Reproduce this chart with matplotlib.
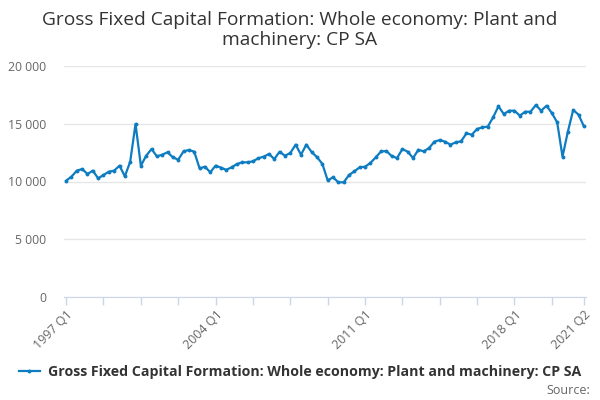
import matplotlib
matplotlib.use("Agg")
import matplotlib.pyplot as plt
from matplotlib.ticker import FuncFormatter, FixedLocator

plt.rcParams['font.family'] = ['Open Sans', 'DejaVu Sans']

values = [10070, 10420, 10940, 11080, 10650, 10940, 10270, 10560, 10850, 10940,
          11370, 10450, 11710, 14980, 11370, 12230, 12810, 12180, 12320, 12530,
          12090, 11890, 12610, 12730, 12580, 11140, 11280, 10800, 11370, 11200,
          11010, 11230, 11510, 11660, 11660, 11750, 12010, 12150, 12380, 11950,
          12580, 12230, 12470, 13190, 12320, 13190, 12550, 12110, 11530, 10100,
          10360, 9930, 9930, 10560, 10880, 11230, 11280, 11600, 12090, 12600,
          12640, 12200, 12030, 12810, 12580, 12030, 12750, 12610, 12900, 13450,
          13590, 13450, 13190, 13390, 13480, 14170, 14050, 14550, 14690, 14750,
          15560, 16510, 15840, 16130, 16130, 15700, 16040, 16040, 16620, 16130,
          16560, 15930, 15120, 12150, 14310, 16190, 15790, 14780]

quarters = [f"{1997 + i // 4} Q{i % 4 + 1}" for i in range(len(values))]
label_quarters = ["1997 Q1", "2004 Q1", "2011 Q1", "2018 Q1", "2021 Q2"]
y_ticks = [0, 5000, 10000, 15000, 20000]
series_name = "Gross Fixed Capital Formation: Whole economy: Plant and machinery: CP SA"
title = "Gross Fixed Capital Formation: Whole economy: Plant and\nmachinery: CP SA"

fig = plt.figure(figsize=(6, 4), dpi=100)
ax = fig.add_axes([64/600, 1 - 297/400, (586 - 64)/600, (297 - 66)/400])

x = list(range(len(values)))
line, = ax.plot(x, values, color='#0d7cc1', linewidth=1.6, marker='o',
                markersize=2.8, markeredgewidth=0, label=series_name, zorder=3)

ax.set_xlim(-0.4, len(values) - 1 + 0.4)
ax.set_ylim(0, 20000)

ax.set_yticks(y_ticks)
ax.yaxis.set_major_formatter(FuncFormatter(lambda v, p: f"{int(v):,}".replace(",", " ")))
ax.grid(axis='y', color='#e6e6e6', linewidth=1)
ax.set_axisbelow(True)
ax.tick_params(axis='y', length=0, labelsize=8.8, labelcolor='#666666', pad=13)

minor_pos = list(range(0, len(values), 7)) + [len(values) - 1]
ax.xaxis.set_major_locator(FixedLocator(minor_pos))
ax.set_xticklabels([quarters[p] if quarters[p] in label_quarters else "" for p in minor_pos])
ax.tick_params(axis='x', length=6, width=1, color='#ccd6eb', labelsize=9,
               labelcolor='#666666', pad=2)
for lbl in ax.get_xticklabels():
    lbl.set_rotation(45)
    lbl.set_ha('right')
    lbl.set_va('top')
    lbl.set_rotation_mode('anchor')

for s in ['top', 'right', 'left']:
    ax.spines[s].set_visible(False)
ax.spines['bottom'].set_color('#ccd6eb')

fig.text(0.5, 1 - 30/400, title, ha='center', va='center', fontsize=13.8,
         color='#333333', linespacing=1.15)

leg = fig.legend(handles=[line], loc='center', bbox_to_anchor=(0.5, 1 - 372/400),
                 frameon=False, fontsize=10.2, handlelength=1.5, handletextpad=0.6)
for t in leg.get_texts():
    t.set_fontweight('bold')
    t.set_color('#333333')

fig.text(590/600, 1 - 390/400, "Source:", ha='right', va='center', fontsize=9,
         color='#666666')

fig.savefig("out.png", dpi=100)
